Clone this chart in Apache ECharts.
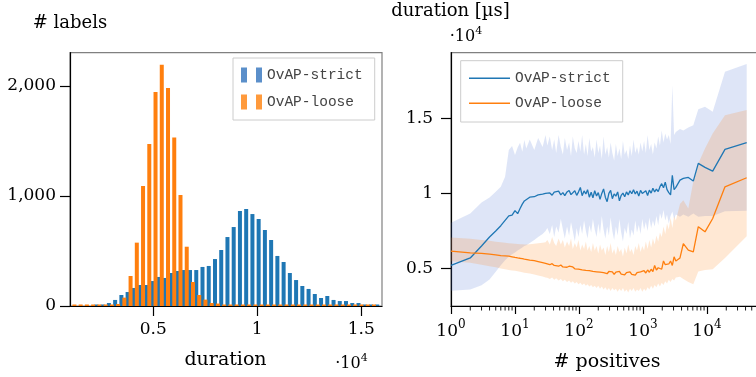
<!DOCTYPE html>
<html><head><meta charset="utf-8">
<script src="https://cdn.jsdelivr.net/npm/echarts@6/dist/echarts.min.js"></script>
<style>html,body{margin:0;padding:0;background:#fff}#c{width:756px;height:377px}</style>
</head><body><div id="c"></div>
<script>
// ---------- Left: histogram of durations ----------
const strictCenters = [2270,2570,2870,3170,3470,3770,4070,4370,4670,4970,5270,5570,5870,6170,6470,6770,7070,7370,7670,7970,8270,8570,8870,9170,9470,9770,10070,10370,10670,10970,11270,11570,11870,12170,12470,12770,13070,13370,13670,13970,14270,14570,14870,15170,15470,15770];
const strictCounts = [2,4,27,55,100,127,164,191,191,227,264,255,300,318,327,327,327,355,364,427,509,627,718,864,882,836,791,691,600,455,400,300,236,182,155,109,73,91,55,45,45,27,27,9,9,3];
const looseCenters = [1212,1512,1812,2112,2412,2712,3012,3312,3612,3912,4212,4512,4812,5112,5412,5712,6012,6312,6612,6912,7212,7512,7812,8112,8412,8712,9012,9312,9612,9912,10212,10512,10812,11112,11412,11712,12012,12312,12612,12912,13212,13512,13812,14112,14412,14712,15012,15312,15612];
const looseCounts = [2,2,2,2,2,3,8,18,76,273,576,1091,1473,1945,2194,1982,1533,1009,539,218,100,58,27,22,9,3,9,3,9,3,3,3,9,3,3,3,3,2,3,3,2,3,3,2,3,2,3,2,3];
const histXTicks = [5000,10000,15000];
const histYTicks = [0,1000,2000];

// ---------- Right: duration vs # positives ----------
const posN = [1,2,3,4,5,6,7,8,9,10,11,12,13,14,15,17,20,23,27,30,
 32,35,38,41,44,48,52,56,60,65,70,75,80,86,92,98,105,112,120,128,136,145,155,165,176,188,200,213,227,242,
 258,275,293,312,332,354,377,402,428,456,486,518,552,588,626,667,711,757,806,859,915,975,1039,1107,1180,1257,1340,1428,1520,1620,
 1727,1840,1960,2090,2227,2373,2529,2695,2872,3060,3260,
 3784,4266,5105,6110,7311,9311,12274,19098,41687];
const strictMean = [5200,5700,6500,7100,7500,7850,8200,8500,8550,8850,8650,9000,9290,9500,9600,9750,9780,9900,9950,10000,
 9960,10030,9880,10080,9970,10150,9900,10050,9850,10100,10200,9920,10040,10180,9870,10090,10400,9850,10170,9960,
 10250,9750,10080,9700,10180,9830,10050,9600,10000,10300,9750,9450,10000,10200,9650,9970,9820,10100,9500,9870,
 10020,9780,10100,9900,10180,9980,10250,9960,10150,9820,10200,10000,9960,10180,9860,10220,10020,10350,10100,10280,
 10120,10450,10650,10380,10750,10250,10050,9900,11200,10250,10400,
 10889,11000,11067,10822,12000,11733,11489,12933,13378];
const strictHigh = [8044,8667,9400,9733,10111,10444,11111,12889,13155,12555,13066,13377,12777,13555,13000,13600,12900,13700,13100,13889,
 13200,13800,12900,13600,12700,13900,13100,12600,13700,12900,13400,12500,13800,13000,12700,13500,12800,13900,12600,13300,
 12500,13700,12800,13100,12400,13600,12700,13200,12300,13800,12600,13100,12400,13400,12700,12200,13300,12500,13000,12300,
 13500,12600,12900,12300,13200,12500,13600,12700,13100,12600,13400,12800,13500,12700,13900,12900,13300,12600,13400,13000,
 13800,13200,14200,13400,14000,13600,13900,13300,17200,13900,14100,
 14300,14200,14400,14550,15600,15780,15440,18100,18620];
const strictLow = [3511,3600,3889,4267,4778,5222,5555,5778,5955,6066,6200,6300,6400,6500,6555,6700,6900,7100,7300,7500,
 7700,7300,7900,7100,7800,7400,8300,7600,7000,7800,7200,8100,7500,6800,7700,7100,7900,7300,8200,7500,
 7000,7900,7400,8300,7600,7100,8000,7300,8500,7600,7000,7800,7200,8400,7500,6900,7800,7200,8300,7400,
 6800,7700,7300,8100,7000,7600,7200,8200,7400,7900,7300,8300,7600,8100,7500,8400,7700,8200,7800,8500,
 7900,8700,8300,8900,8200,8600,8000,8500,8800,8300,8600,
 8450,8600,8450,8670,8450,8500,8500,8820,8840];
const looseMean = [6155,6044,6000,5950,5900,5860,5840,5822,5780,5733,5700,5680,5650,5620,5600,5555,5520,5460,5390,5340,
 5300,5250,5320,5200,5260,5150,5230,5100,5180,5080,5150,5020,5100,4980,5060,4950,5020,4900,4990,4870,
 4960,4850,4930,4800,4900,4780,4880,4750,4860,4720,4830,4650,4800,4700,4780,4600,4760,4680,4800,4620,
 4740,4580,4720,4650,4780,4600,4700,4560,4720,4620,4780,4650,4850,4700,4900,4750,4950,4800,5200,4900,
 5050,5150,4950,5500,5250,5350,5300,5500,5200,5780,5500,
 5700,6650,6220,6100,7780,7440,8330,10440,11044];
const looseHigh = [7067,6978,6900,6850,6780,6750,6720,6680,6660,6640,6630,6620,6610,6600,6600,6620,6650,6680,6720,6750,
 6900,6600,7100,6700,6500,7000,6600,6900,6400,6800,6500,7000,6300,6700,6400,6900,6200,6600,6300,6800,
 6200,6500,6100,6700,6200,6500,6000,6600,6200,6400,5900,6500,6100,6700,6000,6300,5900,6500,6100,6300,
 5800,6400,6000,6600,6100,6300,5900,6500,6200,6700,6100,6500,6200,6800,6300,6900,6400,7000,6600,7200,
 6800,7400,7100,7800,7300,8000,7600,8400,7700,8500,8200,
 9300,9550,9000,10800,12000,13000,14000,15200,15550];
const looseLow = [5489,5378,5250,5150,5080,5000,4950,4900,4870,4850,4810,4780,4750,4720,4700,4660,4600,4540,4460,4400,
 4380,4300,4400,4250,4350,4200,4300,4150,4250,4100,4200,4050,4150,4000,4100,3950,4050,3900,4000,3850,
 3950,3800,3900,3750,3850,3700,3850,3650,3800,3600,3750,3550,3700,3500,3700,3550,3650,3450,3650,3500,
 3700,3450,3600,3400,3650,3500,3700,3450,3600,3500,3700,3450,3650,3500,3750,3600,3850,3650,3900,3750,
 4000,3800,4050,3900,4150,4000,4250,4100,4300,4200,4400,
 4450,4300,4100,3950,4800,4900,4950,5700,7150];
const durYTicks = [5000,10000,15000];
const minorLogTicks = [2,3,4,5,6,7,8,9,20,30,40,50,60,70,80,90,200,300,400,500,600,700,800,900,2000,3000,4000,5000,6000,7000,8000,9000,20000,30000,40000,50000];

const labelNames = {hs:'OvAP-strict', hl:'OvAP-loose', ls:'OvAP-strict', ll:'OvAP-loose'};
const BLUE = '#1f77b4', ORANGE = '#ff7f0e';
const SERIF = 'DejaVu Serif';
const R_YMIN = 2500, R_YMAX = 19375;

const chart = echarts.init(document.getElementById('c'), null, {renderer:'canvas'});

function band(lower, upper, color) {
  return {
    type:'custom', xAxisIndex:1, yAxisIndex:1, silent:true, clip:true, z:2,
    data:[[posN[0], lower[0]]],
    renderItem: function(params, api) {
      const pts = [];
      for (let i = 0; i < posN.length; i++) pts.push(api.coord([posN[i], upper[i]]));
      for (let i = posN.length - 1; i >= 0; i--) pts.push(api.coord([posN[i], lower[i]]));
      return {type:'polygon', shape:{points:pts}, style:{fill:color, stroke:null}};
    }
  };
}

const tickLabelStyle = {fontFamily:SERIF, fontSize:17, color:'#000'};
const axisLineStyle = {color:'#000', width:1.2};
const legendText = {fontFamily:'Liberation Mono', fontSize:14.5, color:'#444', lineHeight:16};

chart.setOption({
  animation:false,
  backgroundColor:'#fff',
  grid:[
    {left:70, top:52.7, width:312, height:253.3, show:true, borderColor:'#808080', borderWidth:1.2, backgroundColor:'transparent', containLabel:false, outerBoundsMode:'none'},
    {left:451, top:52.7, width:320, height:253.3, show:true, borderColor:'#808080', borderWidth:1.2, backgroundColor:'transparent', containLabel:false, outerBoundsMode:'none'}
  ],
  xAxis:[
    {type:'value', gridIndex:0, min:1000, max:16000, z:1,
     axisLine:{show:true, onZero:false, lineStyle:axisLineStyle},
     axisTick:{show:true, length:10, customValues:histXTicks, lineStyle:axisLineStyle},
     axisLabel:Object.assign({customValues:histXTicks, margin:14, lineHeight:20, formatter:v => String(v/10000)}, tickLabelStyle),
     splitLine:{show:false}},
    {type:'log', gridIndex:1, min:1, max:100000, logBase:10, z:1,
     axisLine:{show:true, onZero:false, lineStyle:axisLineStyle},
     axisTick:{show:true, length:8, lineStyle:axisLineStyle},
     axisLabel:{margin:12.5, color:'#000', fontFamily:SERIF,
       formatter:v => { const e = Math.round(Math.log10(v)); return '{b|10}{s|' + e + '}'; },
       rich:{b:{fontFamily:SERIF, fontSize:17, lineHeight:26, color:'#000'}, s:{fontFamily:SERIF, fontSize:12, lineHeight:14, verticalAlign:'top', color:'#000'}}},
     splitLine:{show:false}, minorTick:{show:false}}
  ],
  yAxis:[
    {type:'value', gridIndex:0, min:0, max:2303, z:1,
     axisLine:{show:true, onZero:false, lineStyle:axisLineStyle},
     axisTick:{show:true, length:10, customValues:histYTicks, lineStyle:axisLineStyle},
     axisLabel:Object.assign({customValues:histYTicks, margin:14, formatter:v => v.toLocaleString('en-US')}, tickLabelStyle),
     splitLine:{show:false}},
    {type:'value', gridIndex:1, min:R_YMIN, max:R_YMAX, z:1,
     axisLine:{show:true, onZero:false, lineStyle:axisLineStyle},
     axisTick:{show:true, length:10, customValues:durYTicks, lineStyle:axisLineStyle},
     axisLabel:Object.assign({customValues:durYTicks, margin:18, formatter:v => String(v/10000)}, tickLabelStyle),
     splitLine:{show:false}}
  ],
  legend:[
    {left:233, top:58, orient:'vertical', selectedMode:false,
     data:[{name:'hs', icon:'path://M0,0h6v15h-6z M15,0h6v15h-6z', itemStyle:{color:'#5b8fca'}},
           {name:'hl', icon:'path://M0,0h6v15h-6z M15,0h6v15h-6z', itemStyle:{color:'#ff9a3c'}}],
     formatter:n => labelNames[n], itemWidth:21, itemHeight:15, itemGap:11,
     padding:[9,12,10,8], borderColor:'#cccccc', borderWidth:1, borderRadius:0, backgroundColor:'#fff',
     textStyle:legendText},
    {left:460.7, top:60.7, orient:'vertical', selectedMode:false,
     data:[{name:'ls', icon:'rect', itemStyle:{color:BLUE}}, {name:'ll', icon:'rect', itemStyle:{color:ORANGE}}],
     formatter:n => labelNames[n], itemWidth:41, itemHeight:1.4, itemGap:9,
     padding:[9.6,12,10.7,8.3], borderColor:'#cccccc', borderWidth:1, borderRadius:0, backgroundColor:'rgba(255,255,255,0.8)',
     textStyle:legendText}
  ],
  series:[
    {name:'hs', type:'bar', xAxisIndex:0, yAxisIndex:0, barWidth:4, barGap:'-100%', barMinHeight:1.5,
     itemStyle:{color:BLUE}, data:strictCenters.map((c,i) => [c, strictCounts[i]]), z:3},
    {name:'hl', type:'bar', xAxisIndex:0, yAxisIndex:0, barWidth:4, barGap:'-100%', barMinHeight:1.5,
     itemStyle:{color:ORANGE}, data:looseCenters.map((c,i) => [c, looseCounts[i]]), z:3},
    band(strictLow, strictHigh, 'rgba(70,110,210,0.18)'),
    band(looseLow, looseHigh, 'rgba(255,127,14,0.18)'),
    {name:'ls', type:'line', xAxisIndex:1, yAxisIndex:1, showSymbol:false, symbol:'none', z:3,
     lineStyle:{color:BLUE, width:1.3}, itemStyle:{color:BLUE}, data:posN.map((n,i) => [n, strictMean[i]])},
    {name:'ll', type:'line', xAxisIndex:1, yAxisIndex:1, showSymbol:false, symbol:'none', z:3,
     lineStyle:{color:ORANGE, width:1.3}, itemStyle:{color:ORANGE}, data:posN.map((n,i) => [n, looseMean[i]])},
    {type:'custom', xAxisIndex:1, yAxisIndex:1, silent:true, clip:false, z:3,
     data:minorLogTicks.map(v => [v, R_YMIN]),
     renderItem:function(params, api) {
       const p = api.coord([api.value(0), R_YMIN]);
       return {type:'line', shape:{x1:p[0], y1:p[1], x2:p[0], y2:p[1] + 4.5}, style:{stroke:'#000', lineWidth:0.9}};
     }}
  ],
  graphic:[
    {type:'text', x:70, y:23, style:{text:'# labels', fontFamily:SERIF, fontSize:18, fill:'#000', textAlign:'center', textVerticalAlign:'middle'}},
    {type:'text', x:225.5, y:360.5, style:{text:'duration', fontFamily:SERIF, fontSize:19, fill:'#000', textAlign:'center', textVerticalAlign:'middle'}},
    {type:'text', x:351.5, y:364, style:{text:'{b|·10}{s|4}', textAlign:'center', textVerticalAlign:'middle',
      rich:{b:{fontFamily:SERIF, fontSize:16, lineHeight:22, fill:'#000'}, s:{fontFamily:SERIF, fontSize:11, lineHeight:12, verticalAlign:'top', fill:'#000'}}}},
    {type:'text', x:450.5, y:11, style:{text:'duration [µs]', fontFamily:SERIF, fontSize:18, fill:'#000', textAlign:'center', textVerticalAlign:'middle'}},
    {type:'text', x:466, y:37, style:{text:'{b|·10}{s|4}', textAlign:'center', textVerticalAlign:'middle',
      rich:{b:{fontFamily:SERIF, fontSize:16, lineHeight:22, fill:'#000'}, s:{fontFamily:SERIF, fontSize:11, lineHeight:12, verticalAlign:'top', fill:'#000'}}}},
    {type:'text', x:607, y:362.5, style:{text:'# positives', fontFamily:SERIF, fontSize:19, fill:'#000', textAlign:'center', textVerticalAlign:'middle'}}
  ]
});
</script>
</body></html>
